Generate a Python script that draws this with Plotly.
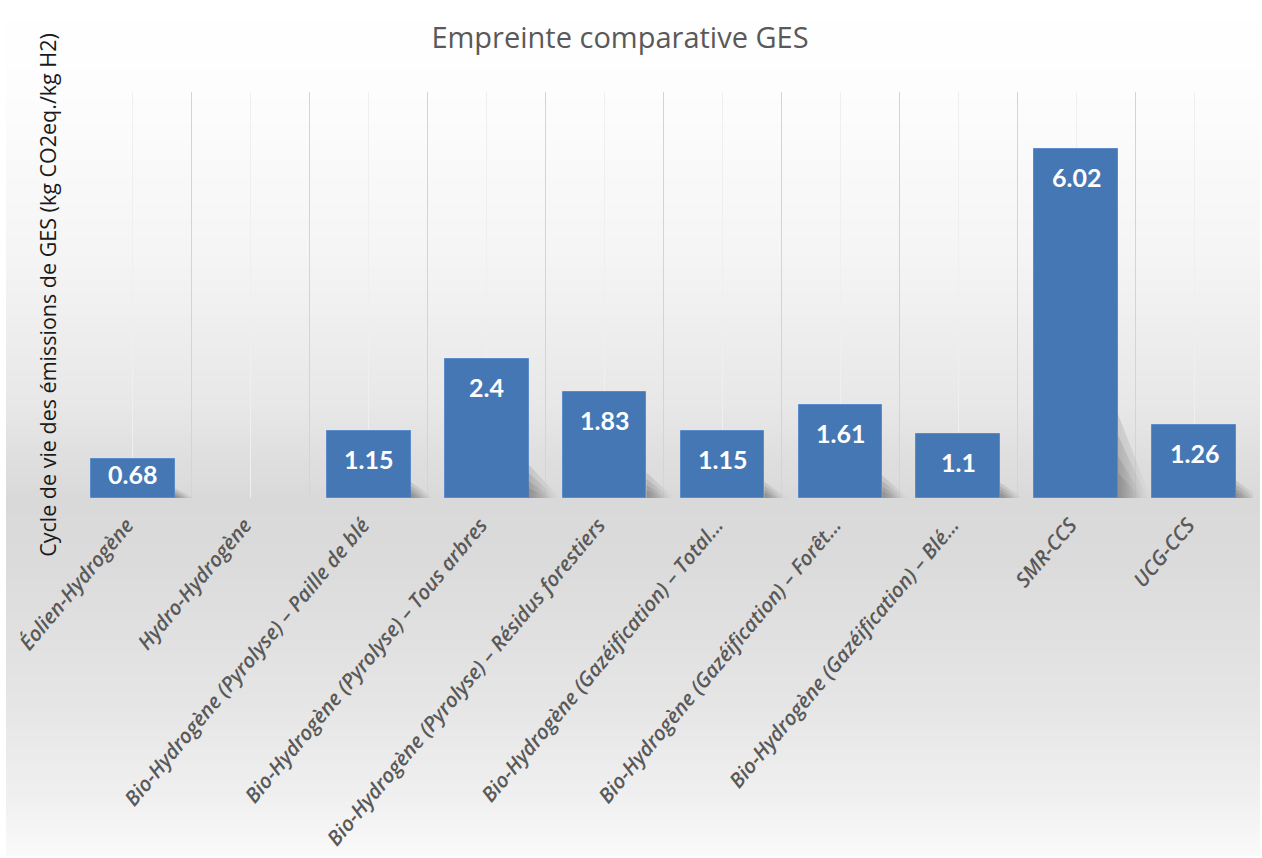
import plotly.graph_objects as go

categories = [
    "Éolien-Hydrogène",
    "Hydro-Hydrogène",
    "Bio-Hydrogène (Pyrolyse) – Paille de blé",
    "Bio-Hydrogène (Pyrolyse) – Tous arbres",
    "Bio-Hydrogène (Pyrolyse) – Résidus forestiers",
    "Bio-Hydrogène (Gazéification) – Total…",
    "Bio-Hydrogène (Gazéification) – Forêt…",
    "Bio-Hydrogène (Gazéification) – Blé…",
    "SMR-CCS",
    "UCG-CCS",
]
values = [0.68, None, 1.15, 2.4, 1.83, 1.15, 1.61, 1.1, 6.02, 1.26]
labels = ["0.68", "", "1.15", "2.4", "1.83", "1.15", "1.61", "1.1", "6.02", "1.26"]

W, H = 1262, 858
L, R, T, B = 74, 9, 92, 360
plot_top, plot_bot = T, H - B
plot_h = plot_bot - plot_top
Y_MAX = 7
px_per_unit = plot_h / Y_MAX
BAR_W = 0.71

positions = list(range(len(categories)))

fig = go.Figure()

# soft shadows cast to the right of each bar (layered for a blurred look)
for p, v in zip(positions, values):
    if not v:
        continue
    xr = p + BAR_W / 2
    hs0 = 0.24 * v
    ext0 = min(0.28, 0.14 + 0.055 * v)
    for k in (1.0, 0.75, 0.5, 0.3):
        hs = hs0 * k
        ext = ext0 * (0.55 + 0.45 * k)
        fig.add_trace(go.Scatter(
            x=[xr, xr, xr + ext, xr],
            y=[0, hs, 0, 0],
            mode="lines", line=dict(width=0), fill="toself",
            fillgradient=dict(type="horizontal",
                              colorscale=[[0, "rgba(70,70,70,0.16)"], [1, "rgba(70,70,70,0.0)"]]),
            hoverinfo="skip", showlegend=False,
        ))

fig.add_trace(go.Bar(
    x=positions, y=values,
    width=BAR_W,
    marker=dict(color="#4577b4", line=dict(color="#5b8bcb", width=1)),
    showlegend=False,
))

annotations = []
for p, v, t in zip(positions, values, labels):
    if not v:
        continue
    h = v * px_per_unit
    annotations.append(dict(
        x=p, y=v, xref="x", yref="y", text=t, showarrow=False,
        yshift=-min(28, h / 2 - 4), yanchor="middle",
        font=dict(family="Lato", size=25, color="white", weight="bold"),
    ))

# background gradient (paper-coordinate bands)
stops = [(0, 255), (92, 253), (250, 245), (400, 232), (498, 217), (560, 219),
         (700, 229), (800, 240), (858, 250)]

def gray_at(py):
    for (a, ga), (b, gb) in zip(stops, stops[1:]):
        if a <= py <= b:
            t = (py - a) / (b - a)
            return ga + (gb - ga) * t
    return 255

shapes = []
step = 6
for py in range(10, H, step):
    g = int(round(gray_at(py + step / 2)))
    y0 = (plot_bot - (py + step)) / plot_h
    y1 = (plot_bot - py) / plot_h
    shapes.append(dict(type="rect", xref="paper", yref="paper",
                       x0=-(L - 6) / (W - L - R), x1=1 + (R - 2) / (W - L - R),
                       y0=y0, y1=y1, layer="below",
                       fillcolor=f"rgb({g},{g},{g})", line=dict(width=0)))

fig.update_layout(
    width=W, height=H,
    margin=dict(l=L, r=R, t=T, b=B, autoexpand=False),
    paper_bgcolor="white", plot_bgcolor="rgba(0,0,0,0)",
    barmode="overlay", bargap=0,
    shapes=shapes,
    annotations=annotations,
    title=dict(text="Empreinte comparative GES", x=620 / W, xanchor="center",
               y=1 - 38 / H, yanchor="middle",
               font=dict(family="Open Sans", size=29, color="#595959")),
    xaxis=dict(
        range=[-0.5, len(categories) - 0.5], automargin=False,
        tickmode="array", tickvals=positions, ticktext=categories,
        tickangle=-50, showline=False, zeroline=False,
        showgrid=True, gridcolor="#efefef", gridwidth=1,
        ticks="", ticklen=0, ticklabelstandoff=10, ticklabelshift=-6,
        tickfont=dict(family="Open Sans", size=20.5, color="#595959", style="italic", weight=600),
        minor=dict(tick0=0.5, dtick=1, showgrid=True, gridcolor="#d4d4d4", gridwidth=1),
    ),
    yaxis=dict(
        range=[0, Y_MAX], showticklabels=False, showgrid=False, zeroline=False,
        showline=False, automargin=False,
        title=dict(text="Cycle de vie des émissions de GES (kg CO2eq./kg H2)",
                   font=dict(family="Open Sans", size=21.5, color="#1a1a1a"), standoff=10),
    ),
)

fig.write_html("out.html", config={"displayModeBar": False},
               post_script="document.body.style.margin='0px';")
